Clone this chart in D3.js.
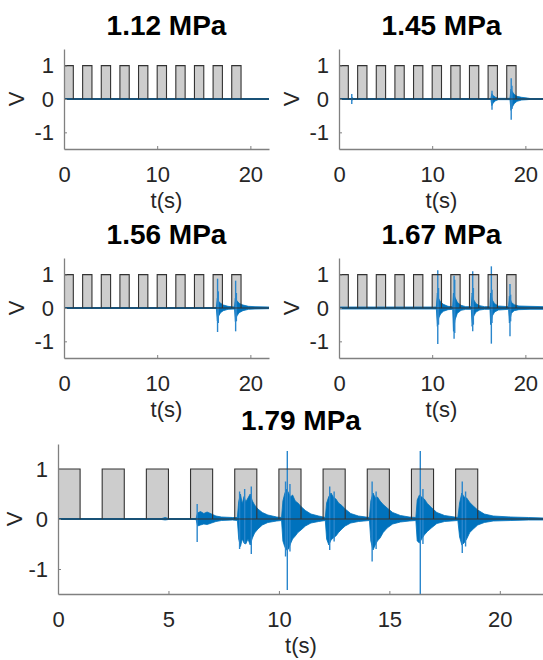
<!DOCTYPE html>
<html>
<head>
<meta charset="utf-8">
<script src="https://cdn.jsdelivr.net/npm/d3@7"></script>
<style>
body { margin: 0; background: #fff; }
text { font-family: "Liberation Sans", Arial, sans-serif; }
</style>
</head>
<body>
<script>
// titles and pulse train
var titles = ['1.12 MPa', '1.45 MPa', '1.56 MPa', '1.67 MPa', '1.79 MPa'];
var pulseStarts = [0, 2, 4, 6, 8, 10, 12, 14, 16, 18];
var pulseEnds = [1, 3, 5, 7, 9, 11, 13, 15, 17, 19];
var pulseLevel = 1;
var xTicksSmall = [0, 10, 20];
var xTicksBig = [0, 5, 10, 15, 20];
var yTicks = [1, 0, -1];

// signal envelopes: [t, upper, lower]
var env1 = [[0, 0.01, -0.01], [22, 0.01, -0.01]];
var env2 = [[0, 0.01, -0.01], [1.3, 0.01, -0.01], [1.4, 0.04, -0.03], [1.6, 0.01, -0.01],
  [16.3, 0.01, -0.01], [16.4, 0.16, -0.2], [16.55, 0.1, -0.12], [16.8, 0.05, -0.05], [17.1, 0.02, -0.02],
  [18.35, 0.02, -0.02], [18.45, 0.3, -0.34], [18.6, 0.22, -0.24], [18.8, 0.14, -0.14], [19.1, 0.08, -0.07],
  [19.6, 0.05, -0.03], [20.2, 0.03, -0.02], [20.6, 0.01, -0.01], [22, 0.01, -0.01]];
var env3 = [[0, 0.01, -0.01], [16.35, 0.01, -0.01], [16.45, 0.3, -0.38], [16.6, 0.2, -0.24],
  [16.8, 0.14, -0.14], [17.1, 0.09, -0.08], [17.6, 0.05, -0.04], [18.3, 0.03, -0.03],
  [18.38, 0.3, -0.4], [18.55, 0.22, -0.24], [18.8, 0.14, -0.14], [19.2, 0.09, -0.08],
  [19.8, 0.05, -0.04], [20.5, 0.04, -0.03], [22, 0.03, -0.02]];
var env4 = [[0, 0.03, -0.03], [10.45, 0.03, -0.03], [10.55, 0.45, -0.55], [10.7, 0.28, -0.3],
  [10.9, 0.18, -0.18], [11.2, 0.11, -0.1], [11.7, 0.05, -0.05], [12.2, 0.04, -0.04],
  [12.28, 0.45, -0.7], [12.45, 0.32, -0.36], [12.7, 0.17, -0.16], [13.1, 0.08, -0.07], [13.6, 0.04, -0.04],
  [14.2, 0.04, -0.04], [14.28, 0.45, -0.55], [14.45, 0.25, -0.25], [14.7, 0.13, -0.12], [15.1, 0.07, -0.06],
  [15.6, 0.04, -0.04], [16.2, 0.04, -0.04], [16.28, 0.45, -0.5], [16.45, 0.24, -0.24], [16.7, 0.13, -0.12],
  [17.1, 0.06, -0.06], [18.2, 0.04, -0.04], [18.28, 0.35, -0.45], [18.5, 0.17, -0.16], [18.8, 0.1, -0.08],
  [19.3, 0.06, -0.05], [20.5, 0.05, -0.04], [22, 0.04, -0.04]];
var env5 = [[0, 0.01, -0.01], [4.7, 0.01, -0.01], [4.85, 0.03, -0.02], [5.0, 0.01, -0.01],
  [6.25, 0.01, -0.01], [6.32, 0.12, -0.14], [6.45, 0.15, -0.12], [6.6, 0.11, -0.1], [6.75, 0.14, -0.11],
  [6.95, 0.1, -0.08], [7.15, 0.06, -0.05], [7.4, 0.04, -0.03], [7.9, 0.03, -0.02],
  [8.12, 0.03, -0.03], [8.18, 0.35, -0.4], [8.26, 0.5, -0.55], [8.34, 0.3, -0.4], [8.42, 0.45, -0.48],
  [8.5, 0.34, -0.5], [8.6, 0.42, -0.4], [8.7, 0.5, -0.52], [8.8, 0.36, -0.38], [8.9, 0.28, -0.28],
  [9.05, 0.2, -0.2], [9.25, 0.13, -0.12], [9.5, 0.08, -0.07], [9.9, 0.04, -0.04],
  [10.12, 0.03, -0.03], [10.18, 0.36, -0.44], [10.26, 0.5, -0.55], [10.34, 0.6, -0.62], [10.44, 0.52, -0.6],
  [10.52, 0.44, -0.5], [10.62, 0.48, -0.4], [10.74, 0.36, -0.34], [10.86, 0.32, -0.27], [11.0, 0.25, -0.22],
  [11.2, 0.17, -0.14], [11.45, 0.1, -0.08], [11.8, 0.06, -0.05], [12.1, 0.03, -0.03],
  [12.16, 0.32, -0.4], [12.26, 0.45, -0.52], [12.36, 0.52, -0.42], [12.46, 0.44, -0.38], [12.58, 0.4, -0.34],
  [12.7, 0.32, -0.27], [12.85, 0.27, -0.2], [13.0, 0.2, -0.14], [13.25, 0.11, -0.08], [13.6, 0.06, -0.05],
  [14.1, 0.03, -0.03], [14.16, 0.36, -0.44], [14.26, 0.52, -0.62], [14.36, 0.42, -0.52], [14.46, 0.44, -0.44],
  [14.58, 0.36, -0.38], [14.72, 0.29, -0.27], [14.9, 0.22, -0.18], [15.15, 0.13, -0.1], [15.5, 0.07, -0.06],
  [15.9, 0.04, -0.04], [16.2, 0.03, -0.03], [16.26, 0.38, -0.44], [16.36, 0.48, -0.48], [16.46, 0.44, -0.4],
  [16.58, 0.4, -0.32], [16.72, 0.31, -0.25], [16.9, 0.23, -0.18], [17.15, 0.13, -0.09], [17.5, 0.07, -0.05],
  [18.1, 0.03, -0.03], [18.18, 0.32, -0.36], [18.28, 0.52, -0.52], [18.38, 0.44, -0.48], [18.5, 0.42, -0.4],
  [18.64, 0.33, -0.27], [18.8, 0.26, -0.2], [19.0, 0.18, -0.12], [19.3, 0.1, -0.07], [19.7, 0.06, -0.04],
  [20.5, 0.04, -0.03], [21.3, 0.03, -0.02], [22, 0.02, -0.02]];

// sharp peaks: [t, upper, lower]
var spikes1 = [];
var spikes2 = [[1.37, 0.15, -0.15], [16.42, 0.25, -0.32], [18.48, 0.62, -0.62], [18.56, 0.4, -0.3]];
var spikes3 = [[16.48, 0.88, -0.72], [16.56, 0.5, -0.45], [18.42, 0.82, -0.7], [18.5, 0.45, -0.4]];
var spikes4 = [[10.6, 1.13, -1.08], [10.68, 0.6, -0.5], [12.35, 0.97, -0.92], [12.42, 0.85, -0.75],
  [14.35, 1.1, -0.7], [14.42, 0.6, -0.5], [16.35, 1.25, -1.07], [16.42, 0.55, -0.45], [18.35, 0.72, -0.85], [18.42, 0.4, -0.4]];
var spikes5 = [[6.3, 0.3, -0.46], [8.22, 0.55, -0.6], [8.45, 0.6, -0.5], [8.75, 0.65, -0.7],
  [10.3, 0.75, -0.75], [10.38, 1.36, -1.42], [10.5, 0.7, -0.65], [12.3, 0.65, -0.62], [12.5, 0.55, -0.45],
  [14.22, 0.75, -0.85], [14.4, 0.55, -0.6], [16.4, 1.36, -1.6], [16.52, 0.6, -0.5],
  [18.3, 0.75, -0.68], [18.45, 0.55, -0.55]];

var envs = [env1, env2, env3, env4, env5];
var spikes = [spikes1, spikes2, spikes3, spikes4, spikes5];

var boxes = [
  {l: 64, t: 49, w: 205, h: 100, ticks: xTicksSmall, vOff: 48},
  {l: 339, t: 49, w: 205, h: 100, ticks: xTicksSmall, vOff: 48},
  {l: 64, t: 258, w: 205, h: 100, ticks: xTicksSmall, vOff: 48},
  {l: 339, t: 258, w: 205, h: 100, ticks: xTicksSmall, vOff: 48},
  {l: 58, t: 444, w: 486, h: 150, ticks: xTicksBig, vOff: 44}
];

var svg = d3.select('body').append('svg')
  .attr('width', 543)
  .attr('height', 660);

var blue = '#0072BD';
var fmt = function(d) { return String(d); };

boxes.forEach(function(b, i) {
  var x = d3.scaleLinear().domain([0, 22]).range([b.l, b.l + b.w]);
  var y = d3.scaleLinear().domain([-1.5, 1.5]).range([b.t + b.h, b.t]);
  var g = svg.append('g');

  g.append('clipPath').attr('id', 'clip' + i)
    .append('rect')
    .attr('x', b.l).attr('y', b.t)
    .attr('width', b.w).attr('height', b.h);

  var plot = g.append('g').attr('clip-path', 'url(#clip' + i + ')');

  // pulse fills
  plot.selectAll('.pulse')
    .data(pulseStarts)
    .enter()
    .append('rect')
    .attr('x', function(d) { return x(d); })
    .attr('y', y(pulseLevel))
    .attr('width', function(d, j) { return x(pulseEnds[j]) - x(d); })
    .attr('height', y(0) - y(pulseLevel))
    .style('fill', '#cdcdcd');

  // signal
  plot.append('line')
    .attr('x1', x(0)).attr('x2', x(22))
    .attr('y1', y(0)).attr('y2', y(0))
    .style('stroke', blue).style('stroke-width', 2.2);

  var area = d3.area()
    .x(function(d) { return x(d[0]); })
    .y0(function(d) { return y(d[2]); })
    .y1(function(d) { return y(d[1]); });
  plot.append('path')
    .datum(envs[i])
    .attr('d', area)
    .style('fill', blue)
    .style('stroke', blue)
    .style('stroke-width', 0.8);

  plot.selectAll('.spike')
    .data(spikes[i])
    .enter()
    .append('line')
    .attr('x1', function(d) { return x(d[0]); })
    .attr('x2', function(d) { return x(d[0]); })
    .attr('y1', function(d) { return y(d[1]); })
    .attr('y2', function(d) { return y(d[2]); })
    .style('stroke', '#2a86cc')
    .style('stroke-width', 1.4);

  // pulse outlines + zero line
  var p = d3.path();
  pulseStarts.forEach(function(s, j) {
    p.moveTo(x(s), y(0));
    p.lineTo(x(s), y(pulseLevel));
    p.lineTo(x(pulseEnds[j]), y(pulseLevel));
    p.lineTo(x(pulseEnds[j]), y(0));
  });
  p.moveTo(x(0), y(0));
  p.lineTo(x(22), y(0));
  plot.append('path')
    .attr('d', p.toString())
    .style('fill', 'none')
    .style('stroke', '#333')
    .style('stroke-width', 1.1);

  // axes
  var xa = g.append('g')
    .attr('transform', 'translate(0,' + (b.t + b.h) + ')')
    .call(d3.axisBottom(x).tickValues(b.ticks).tickFormat(fmt).tickSize(-3).tickSizeOuter(0).tickPadding(17));
  var ya = g.append('g')
    .attr('transform', 'translate(' + b.l + ',0)')
    .call(d3.axisLeft(y).tickValues(yTicks).tickFormat(fmt).tickSize(-3).tickSizeOuter(0).tickPadding(10));
  [xa, ya].forEach(function(a) {
    a.select('.domain').style('stroke', '#808080').style('stroke-width', 1.3);
    a.selectAll('.tick line').style('stroke', '#808080');
    a.selectAll('.tick text')
      .style('font-size', '22px')
      .style('fill', '#262626')
      .style('font-family', '"Liberation Sans", Arial, sans-serif');
  });

  // labels
  g.append('text')
    .attr('x', b.l + b.w / 2)
    .attr('y', b.t - 14)
    .attr('text-anchor', 'middle')
    .style('font-size', '28px')
    .style('font-weight', 'bold')
    .style('fill', '#000')
    .text(titles[i]);

  g.append('text')
    .attr('x', b.l + b.w / 2)
    .attr('y', b.t + b.h + 59)
    .attr('text-anchor', 'middle')
    .style('font-size', '22px')
    .style('fill', '#262626')
    .text('t(s)');

  g.append('text')
    .attr('transform', 'translate(' + (b.l - b.vOff) + ',' + y(0) + ') rotate(-90)')
    .attr('dy', '0.36em')
    .attr('text-anchor', 'middle')
    .style('font-size', '22px')
    .style('fill', '#262626')
    .text('V');
});
</script>
</body>
</html>
